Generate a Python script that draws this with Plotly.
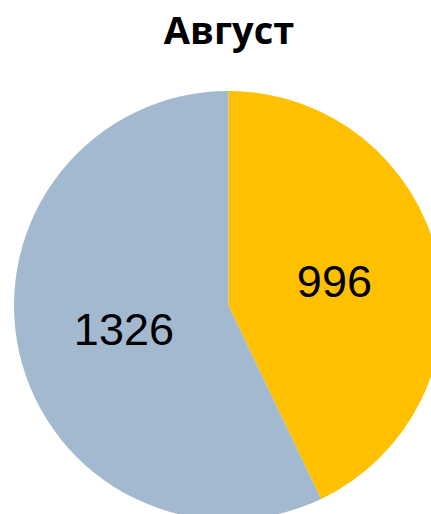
import plotly.graph_objects as go

labels = ["Категория 1", "Категория 2"]
values = [996, 1326]
colors = ["#FFC000", "#A3B9CF"]
title_text = "Август"

W, H = 460, 532
cx, cy, r = 228.5, 305.5, 214.5

fig = go.Figure(go.Pie(
    labels=labels,
    values=values,
    sort=False,
    direction="clockwise",
    rotation=0,
    marker=dict(colors=colors, line=dict(width=0)),
    textinfo="value",
    textposition="inside",
    insidetextorientation="horizontal",
    textfont=dict(family="Liberation Sans, Arial, sans-serif", size=45, color="#000000"),
    domain=dict(x=[(cx - r) / W, (cx + r) / W], y=[(H - cy - r) / H, (H - cy + r) / H]),
    hoverinfo="label+value",
    showlegend=False,
))

fig.update_layout(
    width=W, height=H,
    margin=dict(l=0, r=0, t=0, b=0),
    paper_bgcolor="white",
    plot_bgcolor="white",
    title=dict(text="<b>" + title_text + "</b>", x=229 / W, xanchor="center",
               y=1 - 31 / H, yanchor="middle",
               font=dict(family="Open Sans, sans-serif", size=38, color="#000000")),
)

fig.write_html("out.html", config={"displayModeBar": False},
               post_script="document.body.style.margin='0';document.body.style.overflow='hidden';document.documentElement.style.overflow='hidden';")
